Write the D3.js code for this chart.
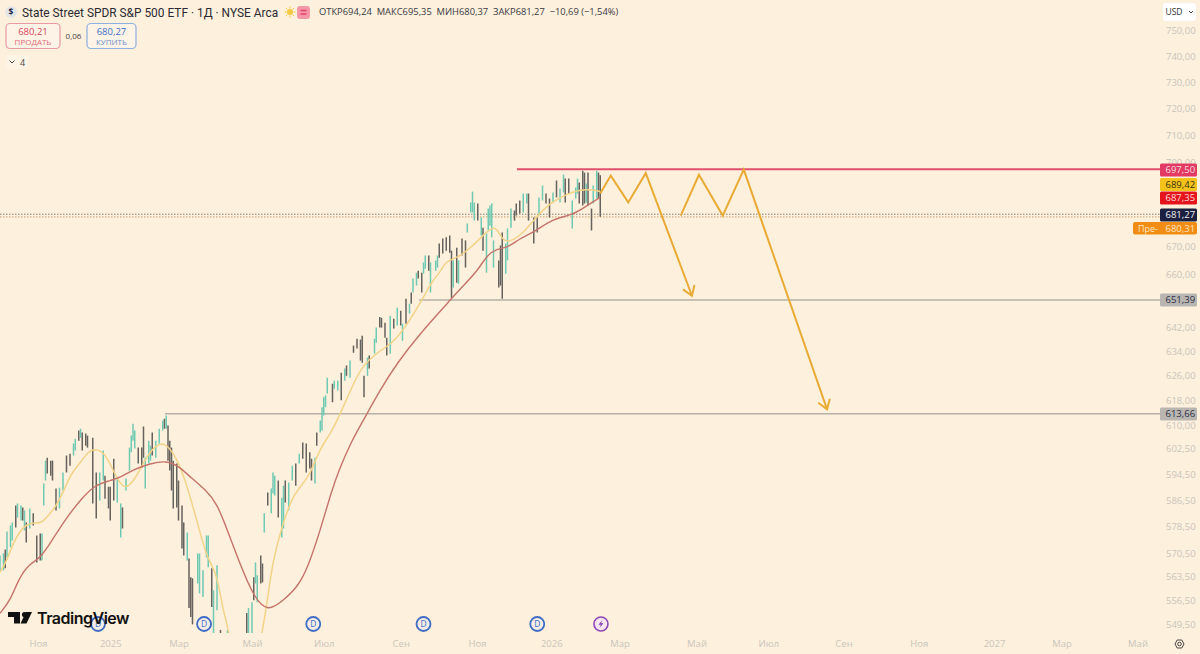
<!DOCTYPE html>
<html>
<head>
<meta charset="utf-8">
<script src="https://cdn.jsdelivr.net/npm/d3@7"></script>
<style>
  html, body { margin: 0; padding: 0; background: #fdf0dc; overflow: hidden; }
  svg { display: block; font-family: "Open Sans", sans-serif; }
  .axis text { fill: #cac5bd; font-size: 9.5px; font-family: "Open Sans", sans-serif; }
  .axis path, .axis line { display: none; }
</style>
</head>
<body>
<svg id="stage" width="1200" height="654"></svg>
<script>
// Sessions are counted from the first visible bar, the future months included
const barSession = [
  0, 2, 3, 4, 6, 7, 9, 10, 12, 13,
  14, 15, 17, 19, 21, 23, 24, 25, 26, 27,
  29, 30, 32, 34, 36, 38, 40, 42, 43, 45,
  46, 47, 49, 50, 53, 55, 57, 59, 60, 62,
  63, 65, 67, 69, 70, 72, 74, 75, 76, 77,
  79, 81, 82, 83, 85, 86, 87, 89, 91, 93,
  94, 95, 96, 97, 98, 99, 101, 102, 104, 105,
  107, 108, 109, 110, 113, 114, 116, 118, 119, 121,
  122, 124, 126, 130, 141, 142, 144, 145, 146, 147,
  149, 150, 151, 153, 155, 156, 157, 159, 161, 162,
  163, 165, 167, 169, 171, 173, 175, 177, 178, 180,
  181, 183, 184, 185, 186, 187, 190, 191, 193, 195,
  197, 198, 200, 202, 204, 206, 207, 208, 210, 211,
  214, 215, 217, 218, 220, 221, 223, 225, 227, 229,
  230, 232, 234, 235, 236, 238, 239, 241, 242, 243,
  245, 246, 249, 250, 251, 253, 255, 257, 258, 259,
  261, 262, 264, 266, 267, 269, 270, 271, 273, 275,
  276, 278, 279, 280, 281, 282, 285, 286, 287, 289,
  290, 292, 294, 295, 297, 299, 301, 302, 305, 307,
  308, 310, 312, 314, 316, 318, 320, 322, 323, 325,
  327, 329, 330, 331, 333, 334, 335, 336, 338, 339,
  341, 342, 343
];
const barHigh = [
  569.8, 570.4, 571.6, 577, 578.8, 579.7, 584.9, 585.5, 584.9, 584.3,
  583.4, 579.7, 584, 582.5, 575.8, 576.4, 576.4, 591.7, 598.8, 599.7,
  598.8, 598.8, 590.1, 590.4, 595.1, 600.4, 601, 604.2, 605.7, 608.3,
  608.9, 607.7, 607.4, 606.7, 606, 595.1, 595.1, 602, 594.1, 590.7,
  590.7, 599.4, 593.2, 585.5, 584.3, 593.2, 602.9, 606.7, 610.5, 608.3,
  602.9, 602.9, 609.6, 599.7, 605.1, 603.5, 607.7, 605.1, 608.9, 611.5,
  612.1, 613.1, 609.9, 605.1, 602.9, 598.8, 597.9, 592.6, 584.9, 579.7,
  576.7, 568.9, 563.3, 563, 570.4, 570.4, 565.4, 575.8, 575.8, 566,
  559.5, 566.9, 548, 548, 552.9, 554.3, 556, 563.3, 567.7, 563.9,
  569.8, 567.4, 582.5, 588.9, 590.1, 595.1, 594.1, 592.6, 587.3, 591,
  592.6, 592, 597.2, 597.9, 601, 604.5, 604.2, 601.4, 599.4, 599.7,
  607.7, 611.5, 615.8, 619, 619.6, 625.4, 623.4, 624.4, 624.4, 627,
  628.4, 629.4, 631, 636, 638.3, 638, 639.3, 626, 632, 632.7,
  638.3, 642, 645.6, 645.3, 643.6, 638.6, 646, 645, 648.7, 647.7,
  643.3, 651.8, 650.1, 653.9, 658.7, 660.7, 661.4, 660.7, 664.3, 666.7,
  666.7, 664.3, 665, 666.7, 670.9, 672.7, 673.1, 673.7, 668.4, 665,
  669.4, 665, 672.7, 672, 678, 685.5, 689.4, 685.5, 685.1, 680.1,
  676.5, 674.4, 683.3, 684.4, 685.1, 672, 665, 670.2, 674.8, 670.9,
  676.2, 683.3, 682.6, 685.1, 686.2, 688.7, 688.7, 688.7, 680.1, 680.1,
  687.3, 691.6, 688.7, 686.9, 689.1, 693.4, 690.5, 695.6, 694.1, 694.1,
  686.2, 690.9, 694.1, 692.7, 697, 696.3, 692.3, 696.3, 683.3, 691.6,
  697, 696.3, 695.35
];
const barLow = [
  565.4, 565.4, 566, 569.2, 572.2, 574.3, 578.2, 581.2, 580.3, 580.3,
  577.3, 573.7, 577.9, 578.8, 567.7, 568.3, 568.3, 584.9, 592.6, 594.8,
  594.1, 592.6, 583.4, 584, 589.5, 595.1, 597.2, 600.4, 602, 605.1,
  606, 602, 603.5, 602.9, 585.5, 580.9, 586.4, 592.6, 587, 584,
  580.3, 586.4, 585.8, 575.2, 577.9, 589.5, 595.7, 601.4, 605.1, 602.6,
  597.9, 596.6, 599.7, 590.1, 597.9, 598.8, 600.4, 599.7, 604.2, 608.3,
  608.9, 608.9, 598.8, 595.7, 589.5, 584, 584.3, 580.3, 571.9, 569.8,
  568.3, 554.3, 551.7, 549.6, 561.5, 558.6, 557.5, 569.2, 566.3, 554.6,
  545, 553.7, 530, 525, 545, 545, 545, 556.6, 561.5, 556,
  561.5, 561.8, 576.7, 584.9, 582.5, 588.6, 588, 581.2, 575.2, 577.9,
  585.8, 583.4, 592.6, 591, 597.9, 599.4, 595.1, 596.3, 592.6, 591.7,
  603.5, 607.7, 608.3, 613.1, 615.8, 620.2, 617.4, 621.8, 621.2, 618,
  624.4, 626, 625.4, 633.6, 635, 631, 630.3, 619, 626, 628.4,
  633.3, 636.9, 642, 642, 638.6, 632.7, 633.3, 641.7, 642.7, 642.7,
  637.6, 643.3, 646.7, 650.1, 653.9, 656.3, 658.7, 653.9, 660.4, 662.1,
  661.4, 653.9, 661.4, 662.5, 665.9, 667.4, 668.4, 667.7, 652.1, 655.6,
  657.3, 656.9, 666.7, 662.5, 674.8, 681.9, 681.9, 679, 679, 673.7,
  668.4, 660.7, 675.5, 677.2, 673.1, 662.5, 655.6, 656.3, 651.8, 660.4,
  665, 676.5, 679, 680.8, 681.5, 681.9, 685.1, 679, 670.9, 674.8,
  680.8, 686.2, 685.1, 680.1, 685.5, 687.3, 685.5, 689.1, 685.5, 688.7,
  676.2, 686.9, 688.7, 685.1, 684.4, 685.1, 685.5, 684.4, 675.5, 685.1,
  686.9, 686.9, 680.37
];
// u = closed higher, d = closed lower, ten bars per chunk
const barDir = [
  "uuduuuduud", "ududdduuud", "ddduudduud", "uddddduudd", "dduuduuuuu",
  "ddduuuduuu", "dudddddddd", "uddduuuuud", "uududuuduu", "dduduuuduu",
  "duududdddu", "duuuuuduud", "ududddddud", "uuddddudud", "ududuudduu",
  "duuudddddu", "dudduuuudu", "duuuuudddu", "uuddduuddd", "uudduduudd",
  "uuuddduddu", "udd"
].join("");

const fastSession = [
  0, 4, 8, 14, 20, 24, 29, 32, 37, 41, 46, 50, 54, 60, 66, 71, 77, 84, 89, 94, 101, 106, 113, 118, 124, 127, 131, 140,
  150, 153, 156, 160, 166, 171, 177, 183, 189, 194, 201, 207, 217, 225, 234, 240, 247, 251, 255, 261, 269, 276, 283, 287,
  291, 299, 307, 314, 324, 335, 343
];
const fastValue = [
  564.8, 568.3, 574.3, 579.1, 579.7, 579.4, 582.8, 584.6, 590.1, 595.1, 598.2, 601.4, 602.6, 601.4, 594.1, 589.5, 592.6,
  600.4, 603.5, 604.8, 599.7, 592.6, 579.4, 569.2, 564.5, 554.6, 547.3, 525,
  547, 557.5, 568.3, 576.4, 586.4, 590.4, 594.1, 602.9, 607.4, 613.1, 622.2, 629.4, 634.3, 637, 644.3, 650.1, 658, 660.4,
  665, 665.7, 669.4, 673.7, 678, 672, 671.3, 674.4, 680.8, 685.1, 688.7, 690.5, 689.42
];
const slowSession = [
  0, 6, 11, 17, 23, 29, 38, 47, 54, 61, 69, 76, 86, 95, 102, 109, 118, 124, 130, 137, 145, 153,
  162, 170, 176, 183, 189, 194, 201, 207, 217, 227, 240, 257, 263, 273, 278, 284, 290, 297, 305, 316, 326, 333, 343
];
const slowValue = [
  552.8, 556.6, 563.3, 567.4, 568.9, 573.7, 581.2, 587.3, 591, 592.3, 593.5, 596, 597.9, 598.8, 597.2, 593.5, 589.5, 585.5,
  577.3, 567.4, 557.5, 553.1, 556.6, 560.4, 566.3, 577.3, 588.6, 596.3, 605.1, 610.9, 621.2, 630.3, 640, 651.1, 655.2, 661.4,
  666.7, 669.1, 669.4, 672.7, 674.8, 679.7, 680.8, 683.3, 687.35
];

const priceTicks = [750, 740, 730, 720, 710, 700, 670, 660, 642, 634, 626, 618, 610, 602.5, 594.5, 586.5, 578.5, 570.5, 563.5, 556.5, 549.5];
const timeTickSession = [21.7, 63, 102, 144, 185, 229, 272.6, 315, 354, 398, 439, 482, 525, 568, 606.6, 650];
const timeTickLabel = ["Ноя", "2025", "Мар", "Май", "Июл", "Сен", "Ноя", "2026", "Мар", "Май", "Июл", "Сен", "Ноя", "2027", "Мар", "Май"];

const dividendSession = [56, 116.6, 179, 242, 307];
const splitSession = [343.4];

// hand drawn forecast zigzags, [session, price]
const zigzagOne = [[343, 688.7], [349, 695.2], [359, 685.5], [369, 696.1], [395.4, 652.8]];
const zigzagTwo = [[389, 680.8], [399.4, 695.5], [413, 680.8], [425, 697.4], [472.6, 615.1]];

// level lines: start session, price
const levelStart = [295.4, 239.5, 94.3];
const levelPrice = [697.5, 651.39, 613.66];

const paneRight = 1160, paneBottom = 633;
const svg = d3.select("#stage");

const x = d3.scaleLinear().domain([0, 650]).range([0, 1137.5]);
const y = d3.scaleLog().domain([549.5, 750]).range([624.7, 30.7]);
const comma = (v) => d3.format(".2f")(v).replace(".", ",");

svg.append("defs").append("clipPath").attr("id", "pane")
  .append("rect").attr("width", paneRight).attr("height", paneBottom);

// axes
svg.append("g").attr("class", "axis")
  .attr("transform", `translate(${paneRight},0)`)
  .call(d3.axisRight(y).tickValues(priceTicks).tickFormat(comma).tickSize(0).tickPadding(6));

svg.append("g").attr("class", "axis")
  .attr("transform", "translate(0,637)")
  .call(d3.axisBottom(x).tickValues(timeTickSession)
    .tickFormat((_, i) => timeTickLabel[i]).tickSize(0).tickPadding(3));

const pane = svg.append("g").attr("clip-path", "url(#pane)");

// last price dotted lines
pane.selectAll("line.last")
  .data([[681.27, "#6a6259"], [680.31, "#b88a4a"]])
  .enter().append("line")
  .attr("x1", 0).attr("x2", paneRight)
  .attr("y1", (d) => y(d[0])).attr("y2", (d) => y(d[0]))
  .attr("stroke", (d) => d[1])
  .attr("stroke-width", 1)
  .attr("stroke-opacity", 0.8)
  .attr("stroke-dasharray", "1.5 1.5");

// levels
pane.selectAll("line.level")
  .data(levelPrice)
  .enter().append("line")
  .attr("x1", (_, i) => x(levelStart[i])).attr("x2", paneRight)
  .attr("y1", (d) => y(d)).attr("y2", (d) => y(d))
  .attr("stroke", (_, i) => (i === 0 ? "#e0506e" : "#b5b0a8"))
  .attr("stroke-width", (_, i) => (i === 0 ? 2 : 1.5));

// bars
pane.selectAll("line.bar")
  .data(barSession)
  .enter().append("line")
  .attr("x1", (d) => x(d)).attr("x2", (d) => x(d))
  .attr("y1", (_, i) => y(barHigh[i])).attr("y2", (_, i) => y(barLow[i]))
  .attr("stroke", (_, i) => (barDir[i] === "u" ? "#6fcab3" : "#66625e"))
  .attr("stroke-width", 1.5);

// moving averages
const maLine = d3.line().curve(d3.curveBasis)
  .x((d) => x(d[0])).y((d) => y(d[1]));
pane.append("path")
  .attr("d", maLine(fastSession.map((s, i) => [s, fastValue[i]])))
  .attr("fill", "none").attr("stroke", "#f3d388").attr("stroke-width", 1.5);
pane.append("path")
  .attr("d", maLine(slowSession.map((s, i) => [s, slowValue[i]])))
  .attr("fill", "none").attr("stroke", "#c4736a").attr("stroke-width", 1.4);

// forecast arrows
const straight = d3.line().x((d) => x(d[0])).y((d) => y(d[1]));
[zigzagOne, zigzagTwo].forEach((points) => {
  pane.append("path").attr("d", straight(points))
    .attr("fill", "none").attr("stroke", "#e9ab35").attr("stroke-width", 2);
  const a = points[points.length - 2], b = points[points.length - 1];
  const tip = [x(b[0]), y(b[1])];
  const angle = Math.atan2(tip[1] - y(a[1]), tip[0] - x(a[0]));
  const head = [angle + 2.55, angle - 2.55].map((t) => [tip[0] + 11 * Math.cos(t), tip[1] + 11 * Math.sin(t)]);
  pane.append("path")
    .attr("d", d3.line()([head[0], tip, head[1]]))
    .attr("fill", "none").attr("stroke", "#e9ab35").attr("stroke-width", 2);
});

// events row
const eventRow = svg.append("g");
const dividends = eventRow.selectAll("g.div").data(dividendSession).enter().append("g")
  .attr("transform", (d) => `translate(${x(d)},624)`);
dividends.append("circle").attr("r", 7).attr("fill", "#f6eee6").attr("stroke", "#3f6cc4").attr("stroke-width", 1.8);
dividends.append("text").text("D").attr("text-anchor", "middle").attr("y", 3.2)
  .attr("font-size", 8.5).attr("fill", "#3f6cc4");
const splits = eventRow.selectAll("g.split").data(splitSession).enter().append("g")
  .attr("transform", (d) => `translate(${x(d)},624)`);
splits.append("circle").attr("r", 7).attr("fill", "#f7e6f2").attr("stroke", "#8d46b5").attr("stroke-width", 1.6);
splits.append("path").attr("d", "M1.5,-4 L-2.5,0.8 L0,0.8 L-1.5,4 L2.5,-0.8 L0,-0.8 Z").attr("fill", "#7d3aa8");

// watermark
const logo = svg.append("g").attr("transform", "translate(8,612)").attr("fill", "#111");
logo.append("path").attr("d", "M0,0 H12 V11.5 H6 V5 H0 Z");
logo.append("circle").attr("cx", 16.5).attr("cy", 2.6).attr("r", 2.6);
logo.append("path").attr("d", "M18,0 H24 L18.5,11.5 H12.5 Z");
svg.append("text").text("TradingView").attr("x", 37).attr("y", 623.5)
  .attr("font-family", "Inter, sans-serif").attr("font-weight", 600)
  .attr("font-size", 16).attr("letter-spacing", -0.5).attr("fill", "#111");

// price tags
const tagPrice = [697.5, 689.42, 687.35, 681.27, 651.39, 613.66];
const tagCenter = [170, 184.5, 198, 215, 300, 414];
const tagFill = ["#e23a62", "#f3c31c", "#e5141c", "#1b2040", "#b9b6b1", "#b9b6b1"];
const tagText = ["#f7dbe0", "#3a3210", "#fbd9d9", "#f2f2f2", "#2b2f45", "#2b2f45"];
const tags = svg.selectAll("g.tag").data(tagPrice).enter().append("g")
  .attr("transform", (_, i) => `translate(1160,${tagCenter[i]})`);
tags.append("rect").attr("y", -6.5).attr("width", 37).attr("height", 13).attr("rx", 1.5)
  .attr("fill", (_, i) => tagFill[i]);
tags.append("text").text((d) => comma(d)).attr("x", 5.5).attr("y", 3.4).attr("font-size", 9.5)
  .attr("fill", (_, i) => tagText[i]);

svg.append("rect").attr("x", 1133).attr("y", 222).attr("width", 64).attr("height", 12.5).attr("rx", 2).attr("fill", "#f18d14");
svg.append("text").text("Пре-").attr("x", 1138).attr("y", 231.5).attr("font-size", 9).attr("fill", "#fde6c4");
svg.append("text").text(comma(680.31)).attr("x", 1165.5).attr("y", 231.5).attr("font-size", 9.5).attr("fill", "#fde6c4");

// currency button
svg.append("rect").attr("x", 1163).attr("y", 3).attr("width", 33).attr("height", 18).attr("rx", 3).attr("fill", "#fff");
svg.append("text").text("USD").attr("x", 1165.5).attr("y", 15).attr("font-size", 8.5).attr("fill", "#333");
svg.append("path").attr("d", "M1189,11 l2,2 l2,-2").attr("fill", "none").attr("stroke", "#444");

// settings gear
svg.append("path").attr("d", "M1175,644 l2.2,-4 h4.6 l2.2,4 l-2.2,4 h-4.6 Z").attr("fill", "none").attr("stroke", "#444").attr("stroke-width", 1);
svg.append("circle").attr("cx", 1179.5).attr("cy", 644).attr("r", 1.8).attr("fill", "none").attr("stroke", "#444");

// legend
svg.append("circle").attr("cx", 11).attr("cy", 12).attr("r", 6).attr("fill", "#e4e6e6");
svg.append("text").text("$").attr("x", 11).attr("y", 15).attr("text-anchor", "middle").attr("font-size", 8.5)
  .attr("font-weight", 700).attr("fill", "#1d2b4f");
svg.append("text").text("State Street SPDR S&P 500 ETF · 1Д · NYSE Arca").attr("x", 22).attr("y", 16.5)
  .attr("font-family", "Roboto, sans-serif").attr("font-size", 11.9).attr("fill", "#2b2b33");
svg.append("circle").attr("cx", 290).attr("cy", 12).attr("r", 3).attr("fill", "#f5c842");
svg.selectAll("line.ray").data(d3.range(8)).enter().append("line")
  .attr("x1", (d) => 290 + 3.5 * Math.cos(d * Math.PI / 4)).attr("y1", (d) => 12 + 3.5 * Math.sin(d * Math.PI / 4))
  .attr("x2", (d) => 290 + 5.5 * Math.cos(d * Math.PI / 4)).attr("y2", (d) => 12 + 5.5 * Math.sin(d * Math.PI / 4))
  .attr("stroke", "#f5c842").attr("stroke-width", 1);
svg.append("rect").attr("x", 297).attr("y", 6).attr("width", 13).attr("height", 13).attr("rx", 3).attr("fill", "#f497a6");
svg.append("path").attr("d", "M300.5,10.5 h6 M300.5,14 h6").attr("stroke", "#e2446a").attr("stroke-width", 1.3);
svg.append("text").text("ОТКР694,24  МАКС695,35  МИН680,37  ЗАКР681,27  −10,69 (−1,54%)").attr("x", 319).attr("y", 15.2)
  .attr("font-size", 9.35).attr("fill", "#3a3a42").style("white-space", "pre");

// quick trade buttons
const buttonX = [6, 87], buttonW = [54, 49];
const buttonStroke = ["#e89aa5", "#8fb0e2"], buttonInk = ["#d8485f", "#3f72c6"];
const buttonPrice = ["680,21", "680,27"], buttonName = ["ПРОДАТЬ", "КУПИТЬ"];
buttonX.forEach((bx, i) => {
  svg.append("rect").attr("x", bx).attr("y", 23.5).attr("width", buttonW[i]).attr("height", 25).attr("rx", 4)
    .attr("fill", "#fdf3e6").attr("stroke", buttonStroke[i]).attr("stroke-width", 1.2);
  svg.append("text").text(buttonPrice[i]).attr("x", bx + buttonW[i] / 2).attr("y", 34.5).attr("text-anchor", "middle")
    .attr("font-size", 9.5).attr("fill", buttonInk[i]);
  svg.append("text").text(buttonName[i]).attr("x", bx + buttonW[i] / 2).attr("y", 45).attr("text-anchor", "middle")
    .attr("font-size", 8).attr("fill", buttonInk[i]).attr("opacity", 0.8);
});
svg.append("text").text("0,06").attr("x", 73.5).attr("y", 39).attr("text-anchor", "middle").attr("font-size", 8).attr("fill", "#444");

svg.append("rect").attr("x", 6).attr("y", 55).attr("width", 22).attr("height", 14).attr("rx", 2).attr("fill", "#fef4e6");
svg.append("path").attr("d", "M9.5,60.5 l2.5,2.5 l2.5,-2.5").attr("fill", "none").attr("stroke", "#444");
svg.append("text").text("4").attr("x", 20).attr("y", 65.5).attr("font-size", 9).attr("fill", "#444");
</script>
</body>
</html>
